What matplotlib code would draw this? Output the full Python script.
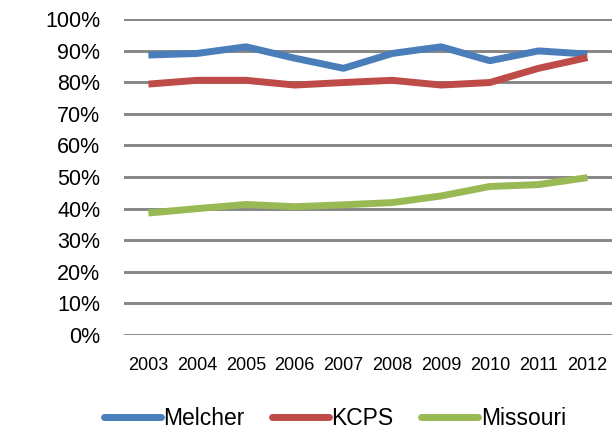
import matplotlib
matplotlib.use("Agg")
import matplotlib.pyplot as plt
from matplotlib.ticker import PercentFormatter

years = ["2003", "2004", "2005", "2006", "2007", "2008", "2009", "2010", "2011", "2012"]
melcher = [0.886, 0.891, 0.912, 0.876, 0.844, 0.891, 0.912, 0.868, 0.899, 0.889]
kcps = [0.794, 0.806, 0.806, 0.791, 0.799, 0.806, 0.791, 0.799, 0.844, 0.878]
missouri = [0.386, 0.400, 0.413, 0.406, 0.412, 0.419, 0.440, 0.470, 0.476, 0.498]

plt.rcParams["font.family"] = ["Liberation Sans", "DejaVu Sans"]

fig = plt.figure(figsize=(6.13, 4.29), dpi=100)
ax = fig.add_axes([0.2023, 0.2191, 0.7957, 0.7366])

x = list(range(len(years)))
ax.plot(x, melcher, color="#4A7EBB", lw=5, label="Melcher", solid_capstyle="butt")
ax.plot(x, kcps, color="#BE4B48", lw=5, label="KCPS", solid_capstyle="butt")
ax.plot(x, missouri, color="#98B954", lw=5, label="Missouri", solid_capstyle="butt")

ax.set_xlim(-0.5, len(years) - 0.5)
ax.set_ylim(0, 1.0)
ax.set_yticks([i / 10 for i in range(11)])
ax.yaxis.set_major_formatter(PercentFormatter(1.0, decimals=0))
ax.set_xticks(x)
ax.set_xticklabels(years, fontsize=13)
ax.tick_params(axis="y", labelsize=15.5, length=0, pad=17)
ax.tick_params(axis="x", length=0, pad=16)
ax.grid(axis="y", color="#868686", lw=2.1)
ax.set_axisbelow(True)
for s in ax.spines.values():
    s.set_visible(False)

leg = fig.legend(loc="center", bbox_to_anchor=(0.546, 0.025), ncol=3, frameon=False,
                 fontsize=16.5, handlelength=2.5, handletextpad=0.1, columnspacing=1.2,
                 borderpad=0)
for h in leg.get_lines():
    h.set_solid_capstyle("round")

fig.savefig("out.png", dpi=100)
